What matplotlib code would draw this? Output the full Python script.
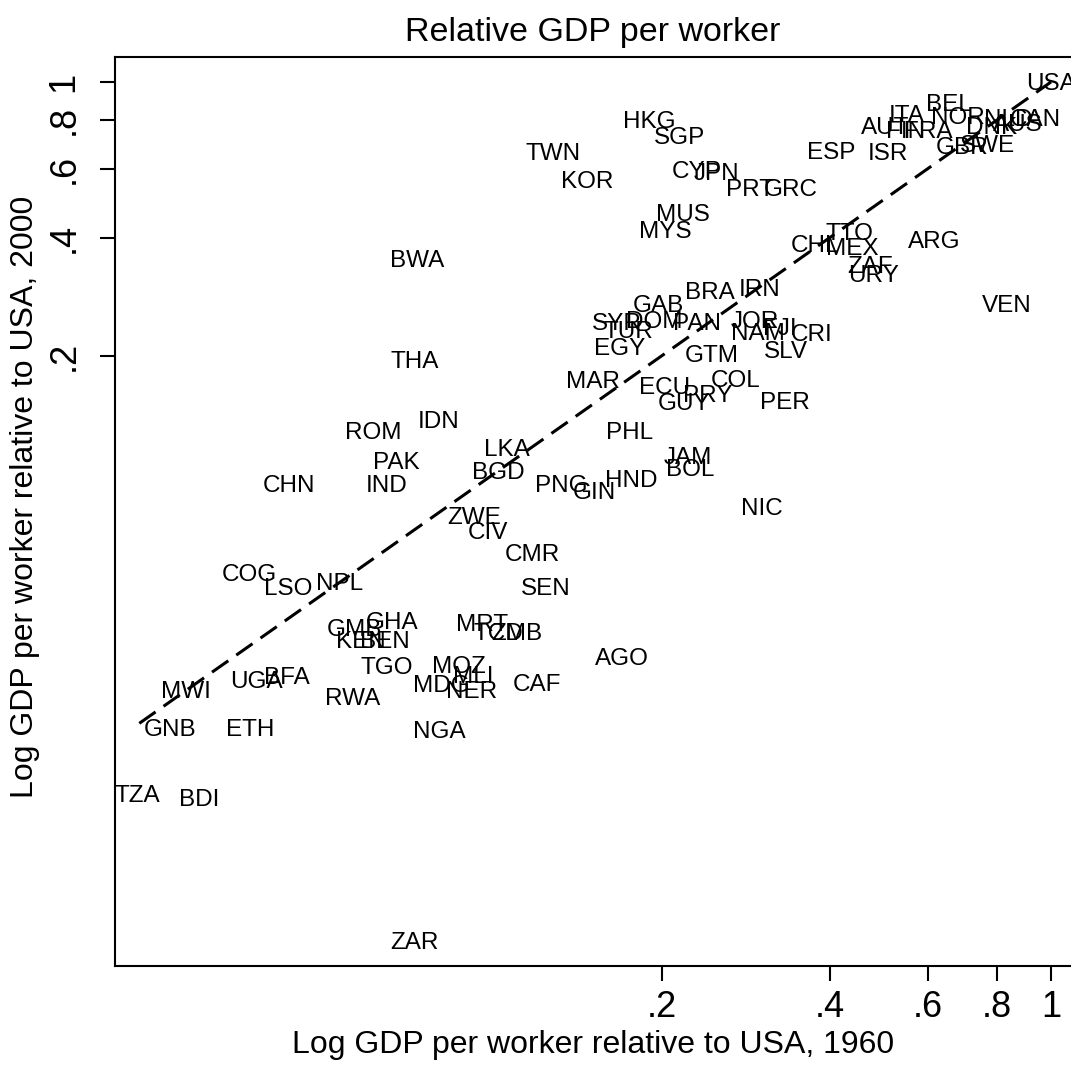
import numpy as np
import matplotlib
matplotlib.use('Agg')
import matplotlib.pyplot as plt
from matplotlib.ticker import NullLocator

plt.rcParams['font.family'] = ['Liberation Sans', 'DejaVu Sans']

''' data: GDP per worker relative to USA (1960, 2000) '''
countries = ['USA', 'HKG', 'SGP', 'TWN', 'KOR', 'CYP', 'JPN', 'PRT', 'GRC', 'MUS',
             'MYS', 'ESP', 'ISR', 'AUT', 'ITA', 'FIN', 'FRA', 'BEL', 'NOR', 'GBR',
             'SWE', 'DNK', 'NLD', 'AUS', 'CAN', 'BWA', 'THA', 'TTO', 'CHL', 'MEX',
             'ZAF', 'URY', 'ARG', 'VEN', 'BRA', 'IRN', 'GAB', 'SYR', 'TUR', 'DOM',
             'PAN', 'JOR', 'NAM', 'FJI', 'CRI', 'EGY', 'GTM', 'SLV', 'MAR', 'ECU',
             'GUY', 'PRY', 'COL', 'PER', 'ROM', 'IDN', 'PAK', 'IND', 'CHN', 'LKA',
             'BGD', 'PHL', 'JAM', 'BOL', 'PNG', 'GIN', 'HND', 'NIC', 'ZWE', 'CIV',
             'CMR', 'SEN', 'COG', 'LSO', 'NPL', 'GMB', 'GHA', 'KEN', 'BEN', 'MRT',
             'TCD', 'ZMB', 'AGO', 'TGO', 'MOZ', 'MLI', 'MDG', 'NER', 'CAF', 'RWA',
             'NGA', 'MWI', 'UGA', 'BFA', 'GNB', 'ETH', 'TZA', 'BDI', 'ZAR']

gdp_1960 = [1.0, 0.190, 0.215, 0.1274, 0.147, 0.231, 0.250, 0.288, 0.340, 0.218,
            0.2025, 0.4025, 0.510, 0.503, 0.551, 0.547, 0.601, 0.656, 0.681, 0.692,
            0.770, 0.783, 0.837, 0.872, 0.936, 0.0726, 0.0720, 0.435, 0.377, 0.439,
            0.473, 0.479, 0.616, 0.834, 0.244, 0.300, 0.197, 0.166, 0.1738, 0.1935,
            0.231, 0.294, 0.2975, 0.326, 0.372, 0.168, 0.246, 0.334, 0.150, 0.2025,
            0.219, 0.242, 0.2716, 0.3327, 0.0605, 0.0792, 0.0665, 0.0641, 0.0427, 0.1053,
            0.1015, 0.1745, 0.2227, 0.2245, 0.1317, 0.151, 0.176, 0.3025, 0.0919, 0.0974,
            0.1168, 0.1238, 0.0362, 0.0426, 0.0526, 0.0561, 0.0654, 0.0576, 0.0636, 0.0950,
            0.1015, 0.1098, 0.1695, 0.0641, 0.0864, 0.0915, 0.0801, 0.0911, 0.1192, 0.0557,
            0.0795, 0.0279, 0.0374, 0.0424, 0.0261, 0.0364, 0.0228, 0.0295, 0.0717]

gdp_2000 = [1.0, 0.800, 0.728, 0.666, 0.565, 0.596, 0.589, 0.539, 0.539, 0.465,
            0.421, 0.670, 0.666, 0.772, 0.833, 0.754, 0.754, 0.884, 0.823, 0.690,
            0.698, 0.776, 0.809, 0.790, 0.809, 0.355, 0.195, 0.416, 0.386, 0.381,
            0.341, 0.325, 0.395, 0.2725, 0.294, 0.299, 0.2725, 0.2437, 0.2325, 0.2466,
            0.2437, 0.2466, 0.231, 0.2367, 0.2285, 0.2104, 0.203, 0.2067, 0.1733, 0.1673,
            0.153, 0.1596, 0.1753, 0.154, 0.129, 0.137, 0.1076, 0.0945, 0.094, 0.1162,
            0.102, 0.1284, 0.1114, 0.1038, 0.094, 0.0907, 0.0968, 0.0821, 0.0779, 0.0713,
            0.0630, 0.0513, 0.0560, 0.0513, 0.0531, 0.0403, 0.0422, 0.0376, 0.0376, 0.0415,
            0.0394, 0.0394, 0.0340, 0.0324, 0.0326, 0.0307, 0.0290, 0.0280, 0.0292, 0.0270,
            0.0222, 0.0280, 0.0297, 0.0304, 0.0224, 0.0224, 0.0152, 0.0149, 0.00643]

line_x = [0.023, 1.0]
ticks = [0.2, 0.4, 0.6, 0.8, 1.0]
tick_labels = ['.2', '.4', '.6', '.8', '1']

W, H = 1071, 1066
fig = plt.figure(figsize=(W / 100, H / 100), dpi=100)
ax = fig.add_axes([115 / W, 100 / H, 1 - 115 / W, 909 / H])

ax.set_xscale('log')
ax.set_yscale('log')
ax.set_xlim(0.0208, 1.086)
ax.set_ylim(0.00552, 1.158)

for name, x, y in zip(countries, gdp_1960, gdp_2000):
    ax.text(x, y, name, ha='center', va='center_baseline', fontsize=17.5, color='black')

ax.plot(line_x, line_x, color='black', lw=2.2, dashes=(6.5, 3.2))

ax.set_xticks(ticks)
ax.set_xticklabels(tick_labels)
ax.set_yticks(ticks)
ax.set_yticklabels(tick_labels)
ax.xaxis.set_minor_locator(NullLocator())
ax.yaxis.set_minor_locator(NullLocator())
ax.tick_params(axis='both', length=11, width=1.5, labelsize=26, direction='out')
ax.tick_params(axis='x', pad=6)
ax.tick_params(axis='y', pad=13, labelrotation=90)
for lab in ax.get_yticklabels():
    lab.set_va('center')

ax.spines['right'].set_visible(False)
for s in ['left', 'bottom', 'top']:
    ax.spines[s].set_linewidth(1.5)

fig.text(593 / W, 1 - 32 / H, 'Relative GDP per worker', ha='center', va='center', fontsize=24.5)
fig.text(593 / W, 1 - 1045 / H, 'Log GDP per worker relative to USA, 1960',
         ha='center', va='center', fontsize=23)
fig.text(25 / W, 1 - 497 / H, 'Log GDP per worker relative to USA, 2000',
         ha='center', va='center', rotation=90, fontsize=23)

fig.savefig('out.png', dpi=100)
